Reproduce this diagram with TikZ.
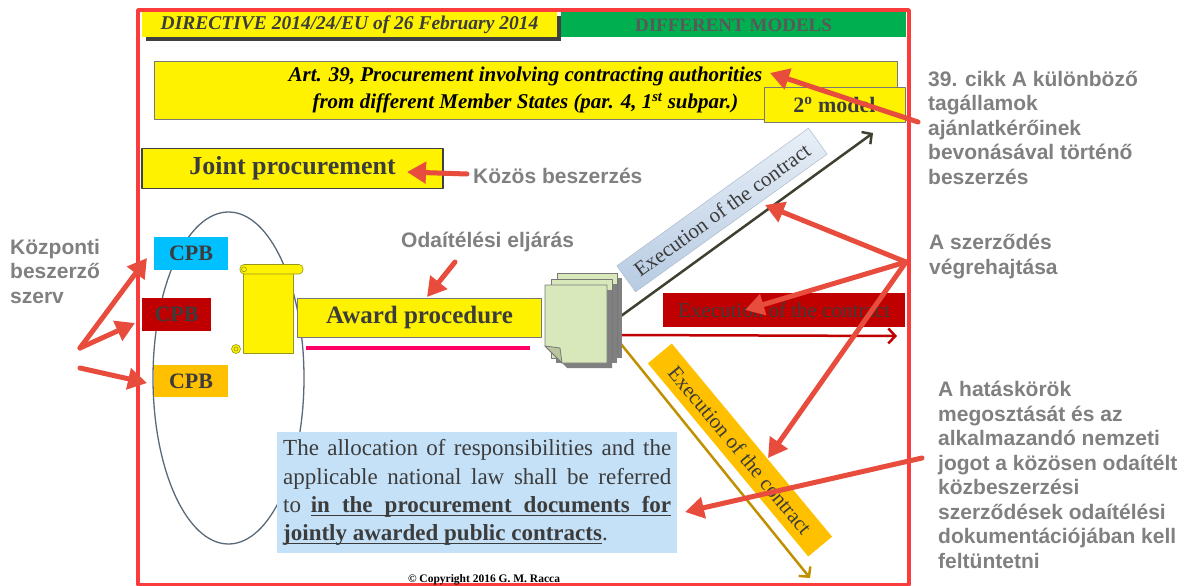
\documentclass[tikz,border=0pt]{standalone}
\usepackage{fontspec}
\setmainfont{Liberation Serif}
\newfontfamily\husans{Liberation Sans}
\usetikzlibrary{arrows.meta}

\definecolor{framered}{RGB}{250,60,60}
\definecolor{pointred}{RGB}{232,76,61}
\definecolor{hugray}{RGB}{128,128,128}
\definecolor{ink}{RGB}{60,60,60}
\definecolor{boxgray}{RGB}{120,120,120}
\definecolor{modelgreen}{RGB}{0,176,80}
\definecolor{cpbcyan}{RGB}{0,192,255}
\definecolor{cpbred}{RGB}{192,0,0}
\definecolor{cpborange}{RGB}{255,192,0}
\definecolor{docgreen}{RGB}{216,232,186}
\definecolor{infoblue}{RGB}{197,225,247}
\definecolor{lawpink}{RGB}{255,0,102}
\definecolor{arrowolive}{RGB}{64,64,48}
\definecolor{arrowgold}{RGB}{191,144,0}
\definecolor{ovalgray}{RGB}{90,105,120}
\definecolor{scrollline}{RGB}{150,150,30}
\definecolor{execblueA}{RGB}{232,239,247}
\definecolor{execblueB}{RGB}{183,203,226}

% underlined words and underlined stretchable spaces
\newcommand\ulw[1]{\leavevmode\setbox0\hbox{#1}\rlap{\rule[-3.3pt]{\wd0}{0.8pt}}\box0}
\newcommand\uls{\leaders\hrule height -2.5pt depth 3.3pt\hskip 0.25em plus 0.2em minus 0.08em\relax}

\begin{document}
\begin{tikzpicture}[line cap=round,line join=round,x=1pt,y=-1pt,
  ybox/.style={fill=yellow,draw=boxgray,line width=0.8pt,inner sep=0pt,text=ink},
  cpb/.style={minimum width=74pt,minimum height=33pt,inner sep=0pt,text=ink,font=\bfseries\fontsize{22}{24}\selectfont},
  execbox/.style={minimum height=32pt,inner sep=0pt,text=ink,font=\fontsize{21}{24}\selectfont},
  hulabel/.style={font=\husans\bfseries\fontsize{21}{24.5}\selectfont,text=hugray,align=left,inner sep=0pt},
  pointer/.style={draw=pointred,line width=5pt,-{Triangle[length=19pt,width=21pt]}},
  docarrow/.style={line width=2.5pt,-{Straight Barb[length=7pt,width=15pt]}},
  page/.style={fill=docgreen,draw=boxgray,line width=0.8pt},
  scroll/.style={fill=yellow,draw=scrollline,line width=0.6pt}]
\useasboundingbox (0,0) rectangle (1192,586);

% slide frame and header
\draw[framered,line width=3.5pt,line cap=butt] (138,10) rectangle (909,585);
\fill[darkgray] (146,16) rectangle (561,41);
\node[fill=yellow,minimum width=415pt,minimum height=25pt,inner sep=0pt,text=ink,font=\bfseries\itshape\fontsize{19.5}{22}\selectfont] (directive) at (349.5,25) {DIRECTIVE 2014/24/EU of 26 February 2014};
\node[fill=modelgreen,minimum width=345pt,minimum height=25pt,inner sep=0pt,text=ink!85,font=\bfseries\fontsize{19}{22}\selectfont] (models) at (733.5,25) {DIFFERENT MODELS};

% article title
\node[ybox,minimum width=743pt,minimum height=58pt,align=center,text=black,font=\bfseries\itshape\fontsize{21}{27}\selectfont] (art) at (525.5,90) {Art. 39, Procurement involving contracting authorities\\from different Member States (par. 4, 1\textsuperscript{st} subpar.)};
\node[ybox,minimum width=141pt,minimum height=35pt,font=\bfseries\fontsize{22}{24}\selectfont] (model) at (834.5,105) {2\textsuperscript{o} model};

\node[ybox,draw=darkgray,line width=1.5pt,minimum width=301pt,minimum height=40pt,font=\bfseries\fontsize{26}{28}\selectfont] (joint) at (292.5,168.5) {Joint procurement};

% buyers
\draw[ovalgray,line width=1.3pt] (228.5,378) ellipse (75.5pt and 166pt);
\node[cpb,fill=cpbcyan] (cpbA) at (191,253.5) {CPB};
\node[cpb,fill=cpbred,minimum width=69pt] (cpbB) at (176.5,314.5) {CPB};
\node[cpb,fill=cpborange,minimum height=32pt] (cpbC) at (191,381) {CPB};

% scroll
\filldraw[scroll] (243,269) rectangle (293,353);
\filldraw[scroll,rounded corners=4pt] (240,264.5) rectangle (303,274);
\filldraw[scroll] (236,349) circle (4.5pt);
\draw[scrollline,line width=0.6pt] (244,269.3) circle (2.5pt);
\draw[scrollline,line width=0.6pt] (236,349) circle (2pt);

\node[ybox,minimum width=244pt,minimum height=39pt,font=\bfseries\fontsize{25}{28}\selectfont] (award) at (419.5,317.5) {Award procedure};
\draw[lawpink,line width=4pt,line cap=butt] (306,348) -- (530,348);

% contract lines
\coordinate (docsNE) at (621,316);
\coordinate (docsE) at (621,335);
\coordinate (docsSE) at (621,344);
\coordinate (execEndA) at (873,133);
\coordinate (execEndB) at (897,336);
\coordinate (execEndC) at (810,578);
\draw[docarrow,arrowolive] (docsNE) -- (execEndA);
\draw[docarrow,cpbred] (docsE) -- (execEndB);
\draw[docarrow,arrowgold] (docsSE) -- (execEndC);

% document stack
\fill[gray] (562,278) rectangle (622,358);
\filldraw[page] (557,273) rectangle (617,353);
\fill[gray] (556,284) rectangle (617,363);
\filldraw[page] (551,279) rectangle (612,358);
\fill[gray] (550,290) -- (612,290) -- (612,368) -- (567,368) -- (550,351) -- cycle;
\filldraw[page] (545,285) -- (607,285) -- (607,363) -- (562,363) -- (545,346) -- cycle;
\filldraw[page,fill=docgreen!85!black] (545,346) -- (560,348) -- (562,363) -- cycle;

\node[execbox,top color=execblueA,bottom color=execblueB,draw=execblueB!80!gray,line width=0.5pt,minimum width=236pt,rotate=35.7] (execA) at (722,210) {Execution of the contract};
\node[execbox,fill=cpbred,minimum width=242pt,minimum height=34pt] (execB) at (784,310) {Execution of the contract};
\node[execbox,fill=cpborange,minimum width=251pt,minimum height=31pt,rotate=-50.3] (execC) at (740,450) {Execution of the contract};

\node[fill=infoblue,anchor=north west,inner xsep=6pt,inner ysep=5pt,text width=388pt,minimum height=121pt,align=justify,text=ink,font=\fontsize{23}{28.3}\selectfont] (info) at (277,432) {The allocation of responsibilities and the applicable national law shall be referred to {\bfseries\ulw{in}\uls\ulw{the}\uls\ulw{procurement}\uls\ulw{documents}\uls\ulw{for}\uls\ulw{jointly}\uls\ulw{awarded}\uls\ulw{public}\uls\ulw{contracts}}.};

\node[font=\bfseries\fontsize{11.5}{13}\selectfont,text=black,anchor=base] (copy) at (484,582) {\textcopyright{} Copyright 2016 G. M. Racca};

% hungarian notes
\node[hulabel,anchor=north west] (cikk) at (928,71) {39. cikk A különböző\\tagállamok\\ajánlatkérőinek\\bevonásával történő\\beszerzés};
\node[hulabel,anchor=base west] (kozos) at (473,183) {Közös beszerzés};
\node[hulabel,anchor=base west] (odaitel) at (401,247) {Odaítélési eljárás};
\node[hulabel,anchor=north west] (vegreh) at (929,234) {A szerződés\\végrehajtása};
\node[hulabel,anchor=north west] (hataskor) at (938,381) {A hatáskörök\\megosztását és az\\alkalmazandó nemzeti\\jogot a közösen odaítélt\\közbeszerzési\\szerződések odaítélési\\dokumentációjában kell\\feltüntetni};
\node[hulabel,anchor=north west] (kozpont) at (10,239) {Központi\\beszerző\\szerv};

% pointers
\coordinate (cikkTail) at (918,122);
\coordinate (artTip) at (770,73);
\coordinate (kozosTail) at (467,174);
\coordinate (jointTip) at (407,172);
\coordinate (odaitelTail) at (455,262);
\coordinate (awardTip) at (427,297);
\coordinate (kozpontTail) at (80,348);
\coordinate (cpbATip) at (147,258);
\coordinate (cpbBTip) at (135,323);
\coordinate (kozpontTailB) at (80,368);
\coordinate (cpbCTip) at (147,383);
\coordinate (vegrehTail) at (906,262);
\coordinate (execATip) at (765,205);
\coordinate (execBTip) at (745,310);
\coordinate (execCTip) at (768,458);
\coordinate (hataskorTail) at (922,458);
\coordinate (infoTip) at (685,512);
\draw[pointer] (cikkTail) -- (artTip);
\draw[pointer] (kozosTail) -- (jointTip);
\draw[pointer] (odaitelTail) -- (awardTip);
\draw[pointer] (kozpontTail) -- (cpbATip);
\draw[pointer] (kozpontTail) -- (cpbBTip);
\draw[pointer] (kozpontTailB) -- (cpbCTip);
\draw[pointer] (vegrehTail) -- (execATip);
\draw[pointer] (vegrehTail) -- (execBTip);
\draw[pointer] (vegrehTail) -- (execCTip);
\draw[pointer] (hataskorTail) -- (infoTip);
\end{tikzpicture}
\end{document}
